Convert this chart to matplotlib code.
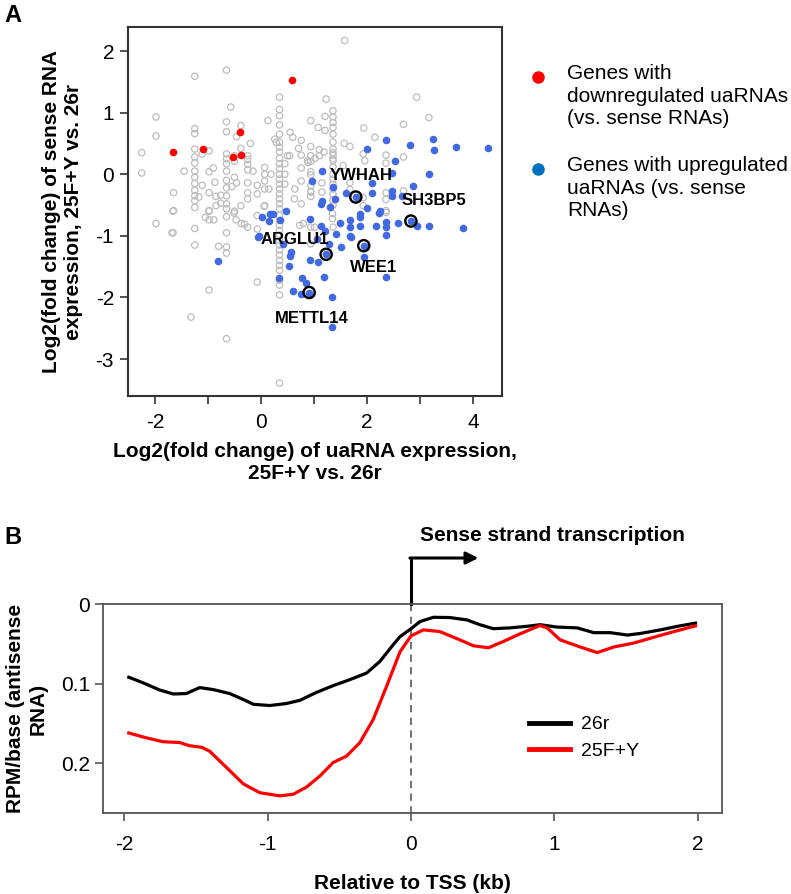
import matplotlib
matplotlib.use("Agg")
from matplotlib import pyplot as plt
from matplotlib import transforms

plt.rcParams['font.family'] = ['Liberation Sans', 'DejaVu Sans']
plt.rcParams['axes.unicode_minus'] = False

# ---- panel A data (log2 fold changes) ----
gray_x = [-1.25, -0.65, -1.98, -1.98, -2.25, -2.25, -0.57, 0.35, -0.65, -0.65, -1.25, -1.25, -0.38, -0.46, 0.13, 0.94,
          -1.25, -1.25, -1.25, -1.11, -0.98, -0.98, -1.25, -1.11, -1.25, -1.25, -1.25, -1.25, -1.17, -0.98, -0.87, -1.65,
          -0.98, -0.85, -0.76, -0.65, -0.65, -0.65, -0.50, -0.50, -0.38, -0.65, -0.50, -0.46, -0.65, -0.65, -0.65, -0.50,
          -0.38, -0.25, -0.25, -0.25, -0.25, -0.25, -0.25, -0.25, -0.07, -0.07, 0.07, 0.07, 0.07, 0.19, 0.07, 0.07, 0.15,
          0.26, 0.29,
          0.35, 0.35, 0.35, 0.35, 0.35, 0.35, 0.35, 0.35, 0.35, 0.35, 0.35, 0.35, 0.35, 0.35, 0.35, 0.35,
          0.45, 0.45, 0.45, 0.54, 0.50, 0.64, 0.76, 0.71, 0.76, 0.76, 0.76, 0.63, 0.94, 0.94, 0.94, 0.94, 0.94, 0.94,
          0.94, 0.88,
          1.58, 2.94, 3.17, 2.69, 1.94, 1.23, 1.36, 1.36, 1.36, 1.36, 1.36, 1.21, 1.08, 1.21, 1.57, 1.68, 1.36, 1.36,
          1.36, 1.36, 1.36, 1.19, 1.02, 0.89, 1.93, 1.96, 2.36, 2.36, 2.69, 1.55, 1.36, 1.36, 0.94, 0.94, 1.15, 1.15,
          1.68, 1.68, 1.93, 1.93, 2.36, 2.36, 2.36, 2.69, 1.36, 1.36, 1.36, 1.36, 1.36, 1.36,
          -1.98, -1.66, -1.66, -1.25, -1.25, -0.98, -0.98, -0.89, -0.65, -0.65, -0.65, -0.65, -0.80, -0.51, -0.47,
          -0.37, -0.31, -0.25, -0.85, -0.76, -0.07, -0.07, 0.06, -0.07, -0.98, -1.32, -0.65, 0.35,
          0.35, 0.35, 0.35, 0.35, 0.35, 0.35, 0.35, 0.35, 0.35, 0.35, 0.35, 0.35, 0.35, 0.35, 0.35,
          0.76, 0.73, 0.94, 1.01, 1.35, 1.35, 2.36, 0.80, 0.94, -1.68, -1.65, -1.45, -1.05, -0.55, -0.15, 0.60, 1.10,
          -1.25, -1.25, -0.65, -0.65, 0.35, 0.35, 1.36, 1.36, -0.90, -0.20, 0.55, 1.10, 1.80, 2.15]
gray_y = [1.59, 1.69, 0.93, 0.62, 0.35, 0.02, 1.09, 1.25, 0.85, 0.69, 0.74, 0.66, 0.79, 0.61, 0.87, 0.87,
          0.41, 0.28, 0.18, 0.33, 0.38, 0.04, -0.05, -0.18, -0.26, -0.35, -0.43, -0.54, -0.37, -0.30, -0.13, -0.59,
          -0.59, -0.51, -0.47, 0.33, 0.25, 0.17, 0.30, 0.21, 0.42, -0.10, -0.05, -0.14, -0.35, -0.48, -0.56, -0.60,
          -0.51, 0.30, 0.24, 0.16, 0.07, -0.14, -0.30, -0.40, -0.18, -0.32, 0.11, 0.00, -0.11, 0.00, -0.24, -0.51, -0.24,
          0.57, 0.52,
          0.80, 0.65, 0.52, 0.44, 0.36, 0.26, 0.17, 0.09, 0.00, -0.08, -0.16, -0.24, -0.32, -0.40, -0.48, -0.56,
          0.17, 0.00, -0.16, 0.30, 0.30, -0.24, 0.55, 0.42, 0.31, 0.10, -0.11, -0.40, 0.45, 0.30, 0.21, 0.04, -0.18,
          -0.28, -0.36, 0.22,
          2.17, 1.25, 0.92, 0.81, 0.75, 1.22, 1.03, 0.93, 0.84, 0.76, 0.65, 0.94, 0.76, 0.71, 0.50, 0.45, 0.52, 0.41,
          0.31, 0.22, 0.12, 0.36, 0.26, 0.19, 0.33, 0.22, 0.31, 0.18, 0.28, 0.14, 0.00, -0.08, -0.01, -0.29, -0.14, -0.29,
          -0.14, -0.25, -0.38, -0.51, -0.30, -0.41, -0.59, -0.27, -0.16, -0.24, -0.32, -0.42, -0.50, -0.86,
          -0.80, -0.60, -0.95, -0.88, -1.15, -0.60, -0.74, -0.74, -0.69, -0.95, -1.18, -1.28, -1.17, -0.63, -0.74,
          -0.80, -0.81, -0.86, -0.36, -0.34, -0.67, -0.89, -0.52, -1.75, -1.88, -2.32, -2.67, -3.39,
          -0.67, -0.75, -0.83, -0.91, -0.99, -1.07, -1.15, -1.23, -1.31, -1.40, -1.48, -1.56, -1.72, -1.80, -1.96,
          -0.48, -0.83, -1.13, -0.86, -0.64, -0.72, -0.62, -0.80, -0.86, -0.95, -0.30, 0.05, -0.70, -0.20, 0.05, 0.60, 0.40,
          0.05, -0.15, 0.05, -0.22, 1.05, 0.95, 0.35, 0.25, 0.10, 0.50, 0.68, 0.30, 0.05, 0.60]

red_x = [-1.66, -1.09, -0.39, -0.52, -0.37, 0.58]
red_y = [0.36, 0.41, 0.68, 0.28, 0.32, 1.53]

blue_x = [0.97, 0.48, 0.17, 0.02, 2.01, 2.36, 2.82, 3.25, 3.27, 3.69, 4.28, 2.53, 3.17, 2.87, 2.48, 2.10, 2.09,
          2.47, 2.48, 2.67, 1.36, 1.40, 1.16, 1.16, 1.13, 1.31, 2.25, 0.92, 1.49, 1.68, 1.68, 1.87, 1.87, 2.17, 2.23,
          2.36, 2.58, 2.95, 3.17, 3.82, 1.13, 1.21, 1.42, 1.68, 2.36, 1.52, 1.29, 0.92, 1.08, 1.19, 2.36, 1.94, 1.35,
          1.35, 0.77, 0.85, -0.81, 0.15, 0.23, 0.35, -0.03, 0.42, 0.57, 0.54, 0.52, 0.34, 0.60, 0.75, 1.70, 1.87,
          -0.05, 2.36, 1.60, 1.05, 2.00]
blue_y = [-0.11, -0.59, -0.64, -0.70, 0.41, 0.55, 0.48, 0.58, 0.39, 0.45, 0.43, 0.21, 0.00, -0.19, 0.02, -0.14, -0.30,
          -0.28, -0.35, -0.35, -0.20, -0.41, 0.06, -0.43, -0.48, -0.54, -0.59, -0.73, -0.79, -0.75, -0.86, -0.69, -0.84,
          -0.84, -0.63, -0.77, -0.79, -0.84, -0.84, -0.87, -0.84, -0.92, -0.97, -1.01, -0.99, -1.18, -1.13, -1.40, -1.42,
          -1.67, -1.67, -1.34, -1.99, -2.48, -1.69, -1.77, -1.41, -0.76, -0.65, -0.75, -1.01, -1.13, -1.26, -1.33, -1.49,
          -1.69, -1.89, -1.95, -1.02, -0.65, -1.02, -0.86, -0.30, -1.05, -0.55]

gene_names = ["YWHAH", "SH3BP5", "ARGLU1", "WEE1", "METTL14"]
gene_x = [1.79, 2.83, 1.23, 1.94, 0.91]
gene_y = [-0.37, -0.76, -1.30, -1.16, -1.92]
gene_label_x = [1.89, 3.27, 0.64, 2.12, 0.96]
gene_label_y = [-0.02, -0.42, -1.06, -1.51, -2.34]

# ---- panel B data (metagene profile) ----
b_black_x = [-1.97, -1.87, -1.755, -1.66, -1.57, -1.475, -1.38, -1.266, -1.17, -1.10, -0.986, -0.87, -0.776, -0.66,
             -0.543, -0.427, -0.31, -0.217, -0.124, -0.077, 0.0, 0.063, 0.156, 0.27, 0.39, 0.48, 0.575, 0.69, 0.81,
             0.90, 1.02, 1.16, 1.275, 1.39, 1.51, 1.60, 1.74, 1.86, 1.985]
b_black_y = [0.092, 0.099, 0.108, 0.113, 0.1125, 0.105, 0.1075, 0.1125, 0.12, 0.126, 0.1275, 0.125, 0.121, 0.111,
             0.1025, 0.095, 0.0867, 0.072, 0.051, 0.041, 0.031, 0.022, 0.0167, 0.017, 0.020, 0.026, 0.031, 0.030, 0.028,
             0.026, 0.029, 0.030, 0.036, 0.036, 0.039, 0.037, 0.0325, 0.028, 0.024]
b_red_x = [-1.97, -1.85, -1.73, -1.615, -1.545, -1.46, -1.405, -1.29, -1.17, -1.056, -0.916, -0.823, -0.73, -0.636,
           -0.543, -0.45, -0.357, -0.264, -0.17, -0.077, 0.0, 0.086, 0.20, 0.34, 0.436, 0.54, 0.645, 0.76, 0.90, 0.95,
           1.04, 1.18, 1.30, 1.415, 1.555, 1.695, 1.835, 1.985]
b_red_y = [0.162, 0.168, 0.173, 0.174, 0.178, 0.18, 0.185, 0.205, 0.226, 0.237, 0.241, 0.239, 0.230, 0.216,
           0.199, 0.191, 0.174, 0.145, 0.103, 0.060, 0.040, 0.0325, 0.0346, 0.045, 0.0525, 0.055, 0.047, 0.0375, 0.027,
           0.030, 0.045, 0.054, 0.061, 0.054, 0.049, 0.0417, 0.0346, 0.0275]

fig = plt.figure(figsize=(7.91, 8.94), dpi=100)

# ---------------- panel A ----------------
axA = fig.add_axes([128/791, 1-396/894, 374/791, 369/894])
axA.scatter(gray_x, gray_y, s=21, facecolors='none', edgecolors='#bdbdbd', linewidths=0.9, zorder=1)
axA.scatter(blue_x + gene_x, blue_y + gene_y, s=30, color='#4169e1', linewidths=0, zorder=2)
axA.scatter(red_x, red_y, s=30, color='#ff0000', linewidths=0, zorder=3)
axA.scatter(gene_x, gene_y, s=65, facecolors='none', edgecolors='black', linewidths=1.7, zorder=4)
for name, lx, ly in zip(gene_names, gene_label_x, gene_label_y):
    axA.text(lx, ly, name, fontsize=12, fontweight='bold', ha='center', va='center', zorder=5)

axA.set_xlim(-2.51, 4.55)
axA.set_ylim(-3.6, 2.39)
axA.set_xticks(range(-2, 5))
axA.set_xticklabels(['-2', '', '0', '', '2', '', '4'])
axA.set_yticks(range(-3, 3))
axA.set_yticklabels([str(v) for v in range(-3, 3)])
axA.tick_params(direction='out', length=6, width=1.2, labelsize=15, color='#333333', pad=4)
axA.tick_params(axis='x', pad=6)
for sp in axA.spines.values():
    sp.set_color('#333333')
    sp.set_linewidth(1.5)
axA.set_xlabel('Log2(fold change) of uaRNA expression,\n25F+Y vs. 26r', fontsize=15, fontweight='bold',
               linespacing=1.2)
axA.set_ylabel('Log2(fold change) of sense RNA\nexpression, 25F+Y vs. 26r', fontsize=15, fontweight='bold',
               linespacing=1.2)
axA.xaxis.set_label_coords(0.5, -0.125)
axA.yaxis.set_label_coords(-0.12, 0.5)

# legend of panel A
axA.plot([538/791], [1-77/894], 'o', ms=8, color='#ff0000', transform=fig.transFigure, clip_on=False)
axA.plot([538/791], [1-169/894], 'o', ms=8, color='#0070c0', transform=fig.transFigure, clip_on=False)
fig.text(567/791, 1-64/894, 'Genes with\ndownregulated uaRNAs\n(vs. sense RNAs)', fontsize=15, va='top',
         linespacing=1.25)
fig.text(567/791, 1-156/894, 'Genes with upregulated\nuaRNAs (vs. sense\nRNAs)', fontsize=15, va='top',
         linespacing=1.25)
fig.text(4/791, 1-15/894, 'A', fontsize=17, fontweight='bold', va='center')

# ---------------- panel B ----------------
axB = fig.add_axes([103/791, 1-813/894, 619/791, 209/894])
axB.plot(b_black_x, b_black_y, color='black', lw=2.3, label='26r', solid_joinstyle='round')
axB.plot(b_red_x, b_red_y, color='#ff0000', lw=2.3, label='25F+Y', solid_joinstyle='round')
axB.plot([0, 0], [0, 0.2625], color='#666666', lw=1.3, ls=(0, (4, 3)), zorder=0)
axB.set_xlim(-2.15, 2.17)
axB.set_ylim(0.2625, 0)
axB.set_xticks([-2, -1, 0, 1, 2])
axB.set_xticklabels(['-2', '-1', '0', '1', '2'])
axB.set_yticks([0, 0.1, 0.2])
axB.set_yticklabels(['0', '0.1', '0.2'])
axB.tick_params(direction='out', length=6, width=1.2, labelsize=15, color='#555555')
axB.tick_params(axis='x', pad=10)
for sp in axB.spines.values():
    sp.set_color('#555555')
    sp.set_linewidth(1.3)
axB.set_xlabel('Relative to TSS (kb)', fontsize=15, fontweight='bold')
axB.set_ylabel('RPM/base (antisense\nRNA)', fontsize=15, fontweight='bold', linespacing=1.2)
axB.xaxis.set_label_coords(0.5, -0.29)
axB.yaxis.set_label_coords(-0.09, 0.5)
axB.legend(loc='upper left', bbox_to_anchor=(0.688, 0.465), frameon=False, fontsize=14, handlelength=2.1,
           handletextpad=0.6, labelspacing=0.45, borderpad=0, borderaxespad=0)
for line in axB.get_legend().get_lines():
    line.set_linewidth(3.5)

# transcription arrow above TSS
trans = transforms.blended_transform_factory(axB.transData, axB.transAxes)
axB.plot([0, 0], [1.0, 1.22], color='black', lw=2.2, transform=trans, clip_on=False)
axB.annotate('', xy=(0.47, 1.22), xytext=(-0.008, 1.22), xycoords=trans, textcoords=trans,
             arrowprops=dict(arrowstyle='-|>', lw=2.2, color='black', mutation_scale=18, shrinkA=0, shrinkB=0))
axB.text(0.06, 1.33, 'Sense strand transcription', transform=trans, fontsize=15, fontweight='bold',
         ha='left', va='center')
fig.text(4/791, 1-537/894, 'B', fontsize=17, fontweight='bold', va='center')

fig.savefig('out.png', dpi=100)
